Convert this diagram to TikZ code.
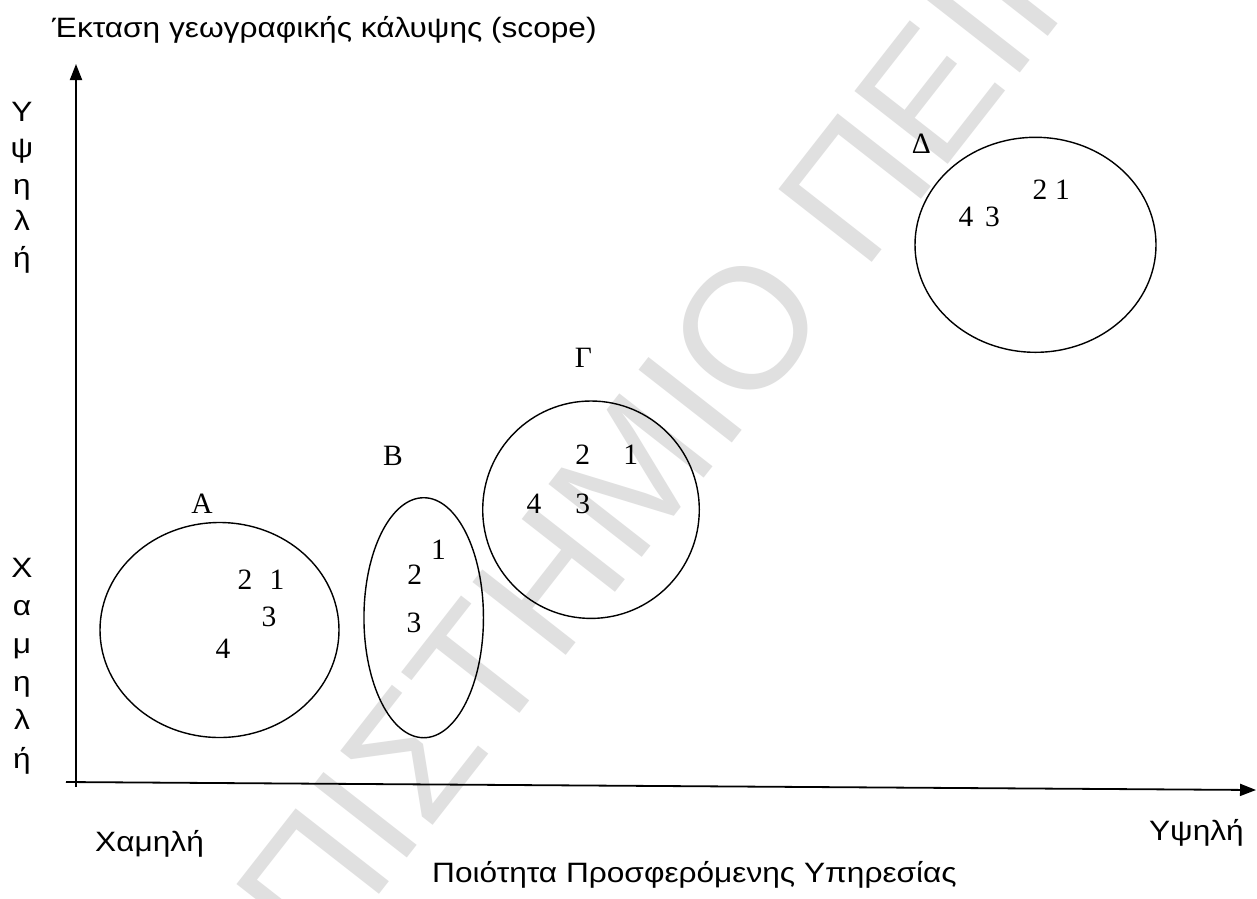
\documentclass[tikz,border=0pt]{standalone}
\usepackage{fontspec}
\setmainfont{Liberation Serif}
\newfontfamily\arialfont{Liberation Sans}
\usetikzlibrary{arrows.meta,shapes.geometric}

\begin{document}
\begin{tikzpicture}[x=1pt,y=-1pt,
  sanslabel/.style={font=\arialfont\fontsize{28}{32}\selectfont, inner sep=0pt, xscale=1.13},
  seriflabel/.style={font=\fontsize{29.5}{34}\selectfont, inner sep=0pt},
  region/.style={draw=black, line width=1.4pt, ellipse, inner sep=0pt},
  axisarrow/.style={line width=1.8pt, -{Triangle[length=16pt,width=12pt]}},
  stamp/.style={text=black!12, font=\arialfont\fontsize{172}{172}\selectfont,
    inner sep=0pt, rotate=52}
]
\useasboundingbox (0,0) rectangle (1257,898);
\fill[white] (0,0) rectangle (1257,898);
\begin{scope}
\clip (0,0) rectangle (1257,898);
% faint background stamp
\node[stamp, anchor=base east] (stampL) at (834,312) {ΠΑΝΕΠΙΣΤΗΜΙΟ};
\node[stamp, anchor=base west] (stampR) at (863,274) {ΠΕΙΡΑΙΩΣ};
\end{scope}

% axes
\coordinate (yfoot) at (76,787);
\coordinate (ytop) at (76,64);
\coordinate (xstart) at (66,782);
\coordinate (xend) at (1256,790);
\draw[axisarrow] (yfoot) -- (ytop);
\draw[axisarrow] (xstart) -- (xend);

% axis titles
\node[sanslabel, anchor=base west] (ytitle) at (52,37) {Έκταση γεωγραφικής κάλυψης (scope)};
\node[sanslabel, anchor=base west] (xlow) at (95,851) {Χαμηλή};
\node[sanslabel, anchor=base east] (xhigh) at (1244,840) {Υψηλή};
\node[sanslabel, anchor=base west] (xtitle) at (432,882) {Ποιότητα Προσφερόμενης Υπηρεσίας};

% vertical scale words
\foreach \ch [count=\i] in {Υ,ψ,η,λ,ή}
  \node[sanslabel, anchor=base] (hi\i) at (22,{121+36.6*(\i-1)}) {\ch};
\foreach \ch [count=\i] in {Χ,α,μ,η,λ,ή}
  \node[sanslabel, anchor=base] (lo\i) at (22,{577+38.2*(\i-1)}) {\ch};

% group A
\node[region, minimum width=239pt, minimum height=215pt] (A) at (219.5,630) {};
\node[seriflabel] (Alab) at (202,503.5) {Α};
\node[seriflabel] (A2) at (245,580) {2};
\node[seriflabel] (A1) at (277,580) {1};
\node[seriflabel] (A3) at (269,617) {3};
\node[seriflabel] (A4) at (223,648.5) {4};

% group B
\node[region, minimum width=119.5pt, minimum height=240pt] (B) at (423.7,617.7) {};
\node[seriflabel] (Blab) at (393,456) {Β};
\node[seriflabel] (B1) at (438.5,550) {1};
\node[seriflabel] (B2) at (414.7,574.5) {2};
\node[seriflabel] (B3) at (414,623) {3};

% group Gamma
\node[region, minimum width=216.6pt, minimum height=217.4pt] (G) at (591,509.7) {};
\node[seriflabel] (Glab) at (583.3,358.3) {Γ};
\node[seriflabel] (G2) at (582.7,455) {2};
\node[seriflabel] (G1) at (630.7,455) {1};
\node[seriflabel] (G4) at (534,504) {4};
\node[seriflabel] (G3) at (582.7,504) {3};

% group Delta
\node[region, minimum width=241pt, minimum height=215pt] (D) at (1035.5,244.8) {};
\node[seriflabel] (Dlab) at (921.3,143.3) {Δ};
\node[seriflabel] (D2) at (1040,190) {2};
\node[seriflabel] (D1) at (1062.5,190) {1};
\node[seriflabel] (D4) at (966,216.7) {4};
\node[seriflabel] (D3) at (992.5,216.7) {3};
\end{tikzpicture}
\end{document}
